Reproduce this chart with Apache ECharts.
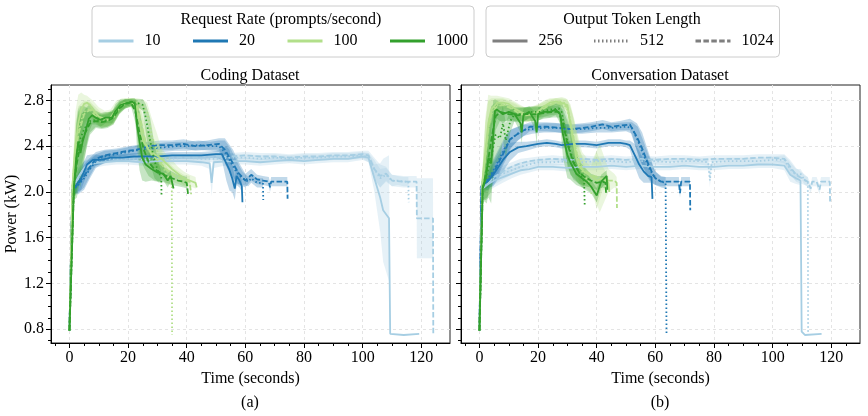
<!DOCTYPE html>
<html>
<head>
<meta charset="utf-8">
<title>Power over time</title>
<script src="https://cdn.jsdelivr.net/npm/echarts@6/dist/echarts.min.js"></script>
<style>
  html, body { margin: 0; padding: 0; background: #fff; }
  #chart { width: 868px; height: 416px; }
</style>
</head>
<body>
<div id="chart"></div>
<script>
// tick values
const xTicks = [0, 20, 40, 60, 80, 100, 120];
const xMinor = [-5, 5, 10, 15, 25, 30, 35, 45, 50, 55, 65, 70, 75, 85, 90, 95, 105, 110, 115, 125];
const yTicks = [0.8, 1.2, 1.6, 2.0, 2.4, 2.8];
const yMinor = [0.7, 0.9, 1.0, 1.1, 1.3, 1.4, 1.5, 1.7, 1.8, 1.9, 2.1, 2.2, 2.3, 2.5, 2.6, 2.7, 2.9];

const rates = ['10', '20', '100', '1000'];
const lengths = ['256', '512', '1024'];

// each point: [time (s), mean power (kW), spread of the shaded band (kW)]
// ---- Coding dataset ----
const coding10_256 = [[0,0.79,0],[1,2.03,0.04],[3,2.13,0.08],[5,2.21,0.06],[8,2.25,0.04],[12,2.26,0.03],[16,2.27,0.03],[20,2.27,0.03],[25,2.26,0.03],[30,2.27,0.03],[35,2.27,0.03],[40,2.27,0.03],[45,2.26,0.03],[47.8,2.25,0.05],[48.5,2.08,0.12],[49.2,2.26,0.05],[55,2.27,0.03],[60,2.27,0.03],[65,2.26,0.03],[70,2.27,0.03],[75,2.28,0.03],[80,2.27,0.03],[85,2.28,0.03],[90,2.29,0.03],[95,2.29,0.03],[100,2.31,0.03],[102,2.3,0.04],[104,2.12,0.12],[106,1.95,0.3],[107,1.84,0.45],[109,1.77,0.55],[109.4,0.76,0],[114,0.75,0],[119.3,0.76,0]];
const coding10_512 = [[0,0.79,0],[1,2.03,0.04],[3,2.12,0.08],[5,2.2,0.06],[8,2.26,0.04],[12,2.28,0.03],[16,2.29,0.03],[20,2.29,0.03],[25,2.28,0.03],[30,2.29,0.03],[35,2.29,0.03],[40,2.3,0.03],[45,2.29,0.03],[50,2.29,0.03],[55,2.3,0.03],[60,2.3,0.03],[65,2.29,0.03],[70,2.3,0.03],[75,2.29,0.03],[80,2.3,0.03],[85,2.3,0.03],[90,2.31,0.03],[95,2.31,0.03],[100,2.32,0.03],[102,2.3,0.04],[104,2.2,0.08],[106,2.12,0.08],[108,2.15,0.06],[110,2.1,0.05],[112,2.1,0.04],[114,2.09,0.04],[115.6,2.09,0.04],[115.7,1.91,0]];
const coding10_1024 = [[0,0.79,0],[1,2.03,0.04],[3,2.12,0.08],[5,2.21,0.06],[8,2.27,0.04],[12,2.29,0.03],[16,2.3,0.03],[20,2.3,0.03],[25,2.3,0.03],[30,2.31,0.03],[35,2.31,0.03],[40,2.3,0.03],[45,2.31,0.03],[50,2.31,0.03],[55,2.31,0.03],[60,2.32,0.03],[65,2.31,0.03],[70,2.31,0.03],[75,2.3,0.03],[80,2.31,0.03],[85,2.31,0.03],[90,2.32,0.03],[95,2.32,0.03],[100,2.33,0.03],[102,2.32,0.04],[104,2.2,0.1],[106,2.14,0.1],[108,2.16,0.06],[110,2.1,0.05],[114,2.09,0.05],[118.4,2.09,0.05],[118.5,1.77,0.35],[124,1.77,0.35],[124.1,0.75,0]];

const coding20_256 = [[0,0.79,0],[1,2.02,0.04],[2,2.05,0.06],[4,2.12,0.1],[6,2.24,0.08],[8,2.28,0.05],[11,2.28,0.04],[14,2.3,0.03],[18,2.3,0.03],[22,2.31,0.03],[26,2.31,0.03],[30,2.31,0.03],[35,2.32,0.03],[40,2.32,0.03],[45,2.32,0.03],[50,2.33,0.03],[52,2.33,0.05],[53.5,2.25,0.15],[54.6,2.19,0.18],[55.5,2.12,0.12],[56.4,2.03,0.1],[57,2.14,0.08],[58,2.1,0.06],[58.8,2.05,0.05],[59,1.91,0]];
const coding20_512 = [[0,0.79,0],[1,2.02,0.04],[3,2.06,0.08],[5,2.12,0.1],[7,2.2,0.08],[9,2.27,0.06],[12,2.31,0.05],[16,2.33,0.04],[20,2.35,0.04],[24,2.37,0.04],[28,2.38,0.04],[32,2.39,0.04],[36,2.4,0.04],[40,2.4,0.04],[44,2.41,0.04],[48,2.4,0.04],[51,2.4,0.05],[53,2.35,0.1],[55,2.26,0.12],[57,2.17,0.1],[59,2.12,0.06],[61,2.09,0.04],[62,2.12,0.04],[64,2.08,0.04],[66,2.08,0.04],[66.1,1.93,0]];
const coding20_1024 = [[0,0.79,0],[1,2.02,0.04],[3,2.07,0.08],[5,2.14,0.1],[7,2.22,0.08],[9,2.29,0.06],[12,2.32,0.05],[16,2.34,0.04],[20,2.36,0.04],[23,2.37,0.04],[27,2.4,0.04],[31,2.41,0.04],[35,2.41,0.04],[39,2.42,0.04],[43,2.4,0.04],[47,2.41,0.04],[51,2.42,0.05],[53,2.37,0.1],[55.8,2.25,0.12],[57.5,2.17,0.1],[60,2.1,0.06],[62,2.15,0.05],[64,2.11,0.04],[66,2.1,0.04],[68,2.09,0.04],[68.4,2.04,0.04],[68.8,2.09,0.04],[71,2.09,0.04],[74.3,2.09,0.04],[74.4,1.94,0]];

const coding100_256 = [[0,0.79,0],[1,2.05,0.1],[2,2.4,0.3],[3,2.6,0.25],[4,2.72,0.15],[5,2.77,0.08],[6,2.78,0.06],[7,2.76,0.06],[8,2.72,0.08],[10,2.66,0.08],[12,2.64,0.07],[14,2.65,0.07],[16,2.72,0.08],[18,2.77,0.05],[20,2.78,0.04],[22,2.78,0.04],[23,2.72,0.08],[24,2.6,0.15],[25,2.45,0.2],[27,2.37,0.15],[29,2.33,0.12],[31,2.3,0.1],[33,2.25,0.08],[35,2.2,0.08],[37,2.16,0.06],[39,2.12,0.06],[41,2.1,0.05],[43,2.08,0.05],[43.4,2.04,0]];
const coding100_512 = [[0,0.79,0],[1,2.05,0.1],[2,2.35,0.25],[3,2.55,0.2],[5,2.7,0.1],[7,2.73,0.06],[9,2.68,0.06],[11,2.63,0.06],[13,2.64,0.06],[15,2.66,0.06],[17,2.74,0.05],[19,2.78,0.04],[21,2.79,0.03],[23,2.78,0.04],[25,2.76,0.05],[26.5,2.7,0.08],[28,2.5,0.15],[30,2.35,0.15],[32,2.22,0.1],[33,2.15,0.08],[34,2.12,0.06],[34.9,2.1,0.05],[35,0.75,0]];
const coding100_1024 = [[0,0.79,0],[1,2.05,0.1],[2,2.3,0.25],[3,2.5,0.2],[5,2.68,0.1],[7,2.72,0.06],[9,2.66,0.06],[11,2.62,0.06],[13,2.63,0.06],[15,2.65,0.06],[17,2.73,0.05],[19,2.77,0.04],[21,2.78,0.04],[23,2.76,0.05],[24.5,2.6,0.15],[26,2.42,0.15],[28,2.33,0.12],[30,2.28,0.1],[33,2.2,0.08],[36,2.14,0.06],[39,2.1,0.05],[41,2.09,0.05],[41.5,1.98,0]];

const coding1000_256 = [[0,0.79,0],[1.5,2.03,0.1],[2.3,2.3,0.3],[3,2.44,0.3],[3.75,2.34,0.3],[4.5,2.44,0.25],[5.5,2.53,0.2],[6.6,2.64,0.12],[7.7,2.67,0.08],[8.9,2.65,0.06],[10.6,2.63,0.06],[12.3,2.65,0.05],[14.5,2.65,0.05],[15.7,2.71,0.06],[17.4,2.76,0.05],[19.7,2.78,0.03],[21.4,2.79,0.03],[22.3,2.77,0.05],[23,2.59,0.2],[23.9,2.44,0.25],[24.8,2.3,0.2],[26,2.24,0.15],[28,2.2,0.1],[30,2.17,0.08],[32,2.16,0.06],[33.5,2.1,0.06],[34.5,2.14,0.05],[35.5,2.03,0]];
const coding1000_512 = [[0,0.79,0],[1.5,2.03,0.1],[2.5,2.3,0.3],[3.5,2.45,0.3],[5,2.55,0.2],[7,2.62,0.1],[9,2.63,0.06],[11,2.62,0.06],[13,2.63,0.06],[15,2.66,0.06],[17,2.74,0.05],[19,2.77,0.04],[21,2.78,0.03],[23,2.78,0.03],[25,2.76,0.05],[26,2.65,0.12],[27.5,2.45,0.2],[29,2.27,0.15],[30.5,2.16,0.08],[31.3,2.14,0.05],[31.4,1.96,0]];
const coding1000_1024 = [[0,0.79,0],[1.5,2.03,0.1],[2.5,2.25,0.3],[3.5,2.38,0.3],[5,2.5,0.2],[7,2.6,0.1],[9,2.62,0.06],[11,2.61,0.06],[13,2.62,0.06],[15,2.65,0.06],[17,2.73,0.05],[19,2.77,0.04],[21,2.78,0.03],[22.5,2.7,0.1],[24,2.5,0.2],[25.5,2.36,0.15],[27,2.26,0.12],[29,2.2,0.1],[31,2.17,0.08],[33,2.14,0.06],[35,2.12,0.06],[37,2.1,0.05],[39,2.09,0.05],[40,2.08,0.05],[40.5,1.97,0]];

// ---- Conversation dataset ----
const conv10_256 = [[0,0.79,0],[1,2.03,0.04],[3,2.07,0.06],[5,2.1,0.06],[8,2.13,0.05],[11,2.16,0.04],[14,2.19,0.04],[17,2.2,0.03],[20,2.22,0.03],[25,2.22,0.03],[30,2.21,0.03],[35,2.22,0.03],[40,2.22,0.03],[45,2.23,0.03],[50,2.22,0.03],[55,2.23,0.03],[60,2.22,0.03],[65,2.22,0.03],[70,2.23,0.03],[75,2.22,0.03],[80,2.22,0.03],[85,2.23,0.03],[90,2.23,0.03],[95,2.24,0.03],[100,2.24,0.03],[104,2.23,0.04],[106,2.15,0.06],[108,2.12,0.05],[109.5,2.1,0.04],[109.9,0.78,0],[111,0.75,0],[116.7,0.76,0]];
const conv10_512 = [[0,0.79,0],[1,2.03,0.04],[3,2.08,0.06],[5,2.12,0.06],[8,2.16,0.05],[11,2.19,0.04],[14,2.22,0.04],[17,2.24,0.03],[20,2.26,0.03],[25,2.26,0.03],[30,2.27,0.03],[35,2.26,0.03],[40,2.27,0.03],[45,2.27,0.03],[50,2.26,0.03],[55,2.27,0.03],[60,2.27,0.03],[65,2.26,0.03],[70,2.27,0.03],[75,2.27,0.03],[78,2.26,0.03],[78.6,2.1,0.06],[79.2,2.26,0.03],[85,2.27,0.03],[90,2.27,0.03],[95,2.27,0.03],[100,2.28,0.03],[104,2.28,0.04],[106,2.2,0.06],[108,2.15,0.05],[109.5,2.16,0.04],[111,2.1,0.04],[112,2.09,0.04],[112.1,0.76,0]];
const conv10_1024 = [[0,0.79,0],[1,2.03,0.04],[3,2.08,0.06],[5,2.13,0.06],[8,2.18,0.05],[11,2.22,0.04],[14,2.25,0.04],[17,2.27,0.03],[20,2.28,0.03],[25,2.29,0.03],[30,2.28,0.03],[35,2.29,0.03],[40,2.28,0.03],[45,2.29,0.03],[50,2.28,0.03],[55,2.29,0.03],[60,2.28,0.03],[65,2.29,0.03],[70,2.29,0.03],[75,2.28,0.03],[80,2.29,0.03],[85,2.29,0.03],[90,2.29,0.03],[95,2.3,0.03],[100,2.3,0.03],[104,2.29,0.04],[106,2.22,0.06],[108,2.15,0.06],[110,2.12,0.05],[112,2.09,0.04],[113,2.03,0.04],[113.5,2.09,0.04],[115,2.09,0.04],[116,2.02,0.04],[116.5,2.09,0.04],[119.5,2.09,0.04],[119.6,1.9,0]];

const conv20_256 = [[0,0.79,0],[0.7,2.05,0.04],[3,2.1,0.06],[4.7,2.15,0.1],[6.5,2.22,0.1],[8,2.28,0.1],[10.4,2.35,0.08],[13.2,2.39,0.05],[16,2.4,0.04],[20,2.42,0.03],[23,2.43,0.03],[26,2.42,0.03],[28,2.41,0.03],[32,2.42,0.03],[36,2.42,0.03],[40,2.41,0.03],[44,2.43,0.03],[48,2.43,0.03],[50,2.42,0.03],[51.3,2.41,0.04],[53,2.32,0.1],[54.5,2.24,0.12],[56,2.18,0.1],[57.5,2.14,0.06],[58.7,2.13,0.05],[59,1.94,0]];
const conv20_512 = [[0,0.79,0],[0.7,2.05,0.04],[3,2.12,0.08],[5,2.2,0.1],[7,2.3,0.1],[9,2.4,0.1],[11,2.47,0.08],[13,2.51,0.06],[15,2.54,0.05],[18,2.55,0.04],[22,2.56,0.04],[26,2.56,0.04],[30,2.55,0.04],[35,2.55,0.04],[40,2.56,0.04],[45,2.56,0.04],[50,2.57,0.04],[52,2.56,0.05],[54,2.45,0.12],[56,2.32,0.12],[58,2.2,0.1],[60,2.12,0.06],[62,2.09,0.05],[63.5,2.08,0.05],[63.8,0.76,0]];
const conv20_1024 = [[0,0.79,0],[0.7,2.05,0.04],[3,2.1,0.08],[5,2.18,0.1],[7,2.28,0.1],[9,2.38,0.1],[10.4,2.46,0.08],[13.2,2.51,0.06],[17.2,2.57,0.04],[20,2.57,0.04],[23,2.57,0.04],[27.5,2.56,0.04],[31,2.55,0.04],[35,2.56,0.04],[38,2.57,0.04],[42,2.59,0.04],[45,2.57,0.04],[48,2.58,0.04],[51.3,2.59,0.05],[53.7,2.48,0.12],[55.5,2.38,0.14],[57,2.28,0.12],[59.2,2.15,0.08],[60,2.12,0.06],[62,2.09,0.04],[65,2.09,0.04],[68,2.09,0.04],[68.4,1.99,0.04],[68.8,2.09,0.04],[71.8,2.09,0.04],[71.9,1.84,0]];

const conv100_256 = [[0,0.79,0],[1,2.1,0.1],[2,2.35,0.3],[3,2.6,0.25],[4,2.72,0.12],[6,2.78,0.06],[8,2.78,0.05],[10,2.77,0.05],[12,2.73,0.06],[14,2.7,0.06],[16,2.67,0.06],[18,2.68,0.06],[20,2.7,0.06],[22,2.75,0.05],[24,2.78,0.04],[26,2.79,0.03],[28,2.78,0.04],[30,2.76,0.05],[31,2.6,0.15],[32,2.45,0.2],[33,2.3,0.2],[34,2.22,0.15],[36,2.17,0.1],[38,2.14,0.08],[40,2.1,0.25],[42,2.12,0.1],[44,2.08,0.06],[44.3,2.0,0]];
const conv100_512 = [[0,0.79,0],[1,2.08,0.1],[2,2.3,0.3],[3,2.55,0.25],[4,2.7,0.12],[6,2.76,0.06],[8,2.77,0.05],[10,2.75,0.05],[12,2.72,0.06],[14,2.69,0.06],[16,2.68,0.06],[18,2.69,0.06],[20,2.71,0.06],[22,2.74,0.05],[24,2.77,0.04],[26,2.79,0.03],[28,2.79,0.04],[29.5,2.77,0.05],[31,2.62,0.15],[32.5,2.42,0.2],[34,2.25,0.15],[35.5,2.15,0.1],[37,2.1,0.08],[38,2.05,0.06],[38.2,1.98,0]];
const conv100_1024 = [[0,0.79,0],[1,2.08,0.1],[2,2.3,0.3],[3,2.55,0.25],[4,2.68,0.12],[6,2.75,0.06],[8,2.76,0.05],[10,2.74,0.05],[12,2.71,0.06],[14,2.68,0.06],[16,2.67,0.06],[18,2.68,0.06],[20,2.7,0.06],[22,2.73,0.05],[24,2.76,0.04],[26,2.78,0.04],[28,2.77,0.04],[30,2.74,0.06],[31.5,2.55,0.15],[33,2.35,0.2],[35,2.2,0.15],[38,2.15,0.1],[41,2.12,0.3],[44,2.1,0.1],[46,2.1,0.06],[46.8,2.08,0.05],[46.9,1.86,0]];

const conv1000_256 = [[0,0.79,0],[1.1,2.03,0.1],[2.2,2.13,0.2],[3.1,2.3,0.35],[4,2.25,0.35],[4.7,2.5,0.3],[5.3,2.71,0.1],[6,2.72,0.08],[8,2.68,0.08],[10,2.7,0.06],[12,2.68,0.06],[14,2.6,0.08],[14.4,2.52,0.1],[15,2.67,0.06],[17,2.7,0.05],[19,2.62,0.08],[19.5,2.52,0.1],[20,2.68,0.06],[22,2.7,0.05],[24,2.7,0.05],[26,2.72,0.05],[27.5,2.68,0.08],[28.5,2.5,0.2],[30,2.32,0.2],[31,2.26,0.15],[33,2.16,0.1],[35,2.12,0.08],[36.6,2.09,0.08],[38,2.05,0.06],[40,1.97,0.06],[41.5,2.09,0.06],[43.4,2.14,0.05],[43.6,2.02,0]];
const conv1000_512 = [[0,0.79,0],[1.1,2.03,0.1],[2.5,2.15,0.2],[4,2.3,0.3],[5.5,2.5,0.25],[7,2.47,0.2],[8,2.6,0.15],[9,2.45,0.15],[10.5,2.62,0.1],[12,2.68,0.06],[15,2.68,0.06],[18,2.7,0.05],[21,2.7,0.05],[24,2.72,0.05],[27,2.73,0.05],[28,2.7,0.08],[29.5,2.5,0.2],[31,2.35,0.2],[33,2.22,0.12],[35,2.12,0.08],[35.7,2.1,0.06],[35.9,1.88,0]];
const conv1000_1024 = [[0,0.79,0],[1.1,2.03,0.1],[2.5,2.2,0.3],[4,2.45,0.3],[5.5,2.66,0.12],[7,2.7,0.08],[10,2.68,0.06],[13,2.67,0.06],[16,2.68,0.06],[19,2.68,0.06],[22,2.69,0.05],[25,2.7,0.05],[27,2.7,0.05],[28.5,2.6,0.12],[30,2.42,0.2],[32,2.26,0.15],[34,2.17,0.1],[36,2.13,0.08],[38,2.1,0.06],[40,2.08,0.06],[42,2.09,0.05],[43,2.08,0.05],[43.2,1.98,0]];

const FONT = "'Liberation Serif', 'DejaVu Serif', serif";
const X_MIN = -6.3, X_MAX = 129.8;
const Y_MIN = 0.68, Y_MAX = 2.935;

const rateColors = { '10': '#a6cee3', '20': '#1f78b4', '100': '#b2df8a', '1000': '#33a02c' };
const lengthDash = { '256': 'solid', '512': [1.5, 2.5], '1024': [5.5, 2.4] };

const panels = [
  {
    key: 'coding', xIdx: 0, yIdx: 0,
    runs: {
      '10': [coding10_256, coding10_512, coding10_1024],
      '20': [coding20_256, coding20_512, coding20_1024],
      '100': [coding100_256, coding100_512, coding100_1024],
      '1000': [coding1000_256, coding1000_512, coding1000_1024]
    }
  },
  {
    key: 'conv', xIdx: 2, yIdx: 2,
    runs: {
      '10': [conv10_256, conv10_512, conv10_1024],
      '20': [conv20_256, conv20_512, conv20_1024],
      '100': [conv100_256, conv100_512, conv100_1024],
      '1000': [conv1000_256, conv1000_512, conv1000_1024]
    }
  }
];

// shaded band (mean +- spread), drawn as one polygon through the axis scales
function bandSeries (pts, color, xIdx, yIdx) {
  return {
    type: 'custom',
    xAxisIndex: xIdx,
    yAxisIndex: yIdx,
    silent: true,
    clip: true,
    encode: { x: 0, y: 1 },
    data: pts,
    renderItem: function (params, api) {
      if (params.dataIndex !== 0) return null;
      const upper = pts.map(p => api.coord([p[0], p[1] + p[2]]));
      const lower = pts.map(p => api.coord([p[0], p[1] - p[2]])).reverse();
      return {
        type: 'polygon',
        shape: { points: upper.concat(lower) },
        style: { fill: color, opacity: 0.28 }
      };
    }
  };
}

function lineSeries (name, pts, color, dash, xIdx, yIdx) {
  return {
    name: name,
    type: 'line',
    xAxisIndex: xIdx,
    yAxisIndex: yIdx,
    symbol: 'none',
    silent: true,
    clip: true,
    data: pts.map(p => [p[0], p[1]]),
    lineStyle: { color: color, width: 1.8, type: dash, cap: 'butt' }
  };
}

const series = [];
panels.forEach(panel => {
  rates.forEach(rate => {
    panel.runs[rate].forEach((pts, i) => {
      const len = lengths[i];
      series.push(bandSeries(pts, rateColors[rate], panel.xIdx, panel.yIdx));
      series.push(lineSeries(panel.key + '-' + rate + '-' + len, pts, rateColors[rate], lengthDash[len], panel.xIdx, panel.yIdx));
    });
  });
});

// empty series only used for the two legends (symbol made transparent)
const noMark = { color: 'rgba(0,0,0,0)', borderWidth: 0 };
rates.forEach(rate => {
  series.push({ name: rate, type: 'line', symbol: 'none', data: [], lineStyle: { color: rateColors[rate], width: 3 }, itemStyle: noMark });
});
lengths.forEach(len => {
  series.push({ name: len, type: 'line', symbol: 'none', data: [], lineStyle: { color: '#7f7f7f', width: 3, type: lengthDash[len] }, itemStyle: noMark });
});

const textBase = { fontFamily: FONT, fontSize: 16, color: '#000' };

function xAxes (gridIndex) {
  return [{
    type: 'value', gridIndex: gridIndex, min: X_MIN, max: X_MAX, position: 'bottom',
    name: 'Time (seconds)', nameLocation: 'middle', nameGap: 23, nameTextStyle: textBase,
    axisLine: { onZero: false, lineStyle: { color: '#000', width: 1 } },
    axisTick: { customValues: xTicks, length: 5, lineStyle: { color: '#000' } },
    axisLabel: Object.assign({ customValues: xTicks, margin: 7 }, textBase),
    splitLine: { show: true, lineStyle: { color: '#e4e4e4', type: [3, 3] } }
  }, {
    type: 'value', gridIndex: gridIndex, min: X_MIN, max: X_MAX, position: 'bottom',
    axisLine: { show: false, onZero: false },
    axisTick: { customValues: xMinor, length: 3, lineStyle: { color: '#000' } },
    axisLabel: { show: false },
    splitLine: { show: false }
  }];
}

function yAxes (gridIndex, showLabels) {
  return [{
    type: 'value', gridIndex: gridIndex, min: Y_MIN, max: Y_MAX, position: 'left',
    name: showLabels ? 'Power (kW)' : '', nameLocation: 'middle', nameGap: 28, nameTextStyle: textBase,
    axisLine: { onZero: false, lineStyle: { color: '#000', width: 1 } },
    axisTick: { customValues: yTicks, length: 5, lineStyle: { color: '#000' } },
    axisLabel: Object.assign({ show: showLabels, customValues: yTicks, margin: 7, formatter: v => v.toFixed(1) }, textBase),
    splitLine: { show: true, lineStyle: { color: '#e4e4e4', type: [3, 3] } }
  }, {
    type: 'value', gridIndex: gridIndex, min: Y_MIN, max: Y_MAX, position: 'left',
    axisLine: { show: false, onZero: false },
    axisTick: { customValues: yMinor, length: 3, lineStyle: { color: '#000' } },
    axisLabel: { show: false },
    splitLine: { show: false }
  }];
}

const legendBase = {
  top: 6,
  orient: 'horizontal',
  itemWidth: 35,
  itemHeight: 14,
  borderColor: '#cccccc',
  borderWidth: 1,
  borderRadius: 4,
  selectedMode: false,
  itemStyle: { borderWidth: 0 },
  lineStyle: { width: 3 },
  textStyle: Object.assign({ padding: [0, 0, 0, 6] }, textBase)
};

const chart = echarts.init(document.getElementById('chart'), null, { renderer: 'canvas' });
chart.setOption({
  animation: false,
  backgroundColor: '#fff',
  title: [
    { text: 'Request Rate (prompts/second)', left: 281, top: 12, textAlign: 'center', padding: 0, textStyle: Object.assign({ fontWeight: 'normal' }, textBase) },
    { text: 'Output Token Length', left: 632, top: 12, textAlign: 'center', padding: 0, textStyle: Object.assign({ fontWeight: 'normal' }, textBase) },
    { text: 'Coding Dataset', left: 250, top: 68, textAlign: 'center', padding: 0, textStyle: Object.assign({ fontWeight: 'normal' }, textBase) },
    { text: 'Conversation Dataset', left: 660, top: 68, textAlign: 'center', padding: 0, textStyle: Object.assign({ fontWeight: 'normal' }, textBase) },
    { text: '(a)', left: 250, top: 395, textAlign: 'center', padding: 0, textStyle: Object.assign({ fontWeight: 'normal' }, textBase) },
    { text: '(b)', left: 660, top: 395, textAlign: 'center', padding: 0, textStyle: Object.assign({ fontWeight: 'normal' }, textBase) }
  ],
  legend: [
    Object.assign({}, legendBase, { data: rates, left: 92, itemGap: 31, padding: [27, 6, 8, 5] }),
    Object.assign({}, legendBase, { data: lengths, left: 486, itemGap: 30, padding: [27, 6, 8, 5] })
  ],
  grid: [
    { left: 51, top: 85, width: 399, height: 258, show: true, borderColor: '#222', borderWidth: 1 },
    { left: 461, top: 85, width: 399, height: 258, show: true, borderColor: '#222', borderWidth: 1 }
  ],
  xAxis: xAxes(0).concat(xAxes(1)),
  yAxis: yAxes(0, true).concat(yAxes(1, false)),
  series: series
});
</script>
</body>
</html>
